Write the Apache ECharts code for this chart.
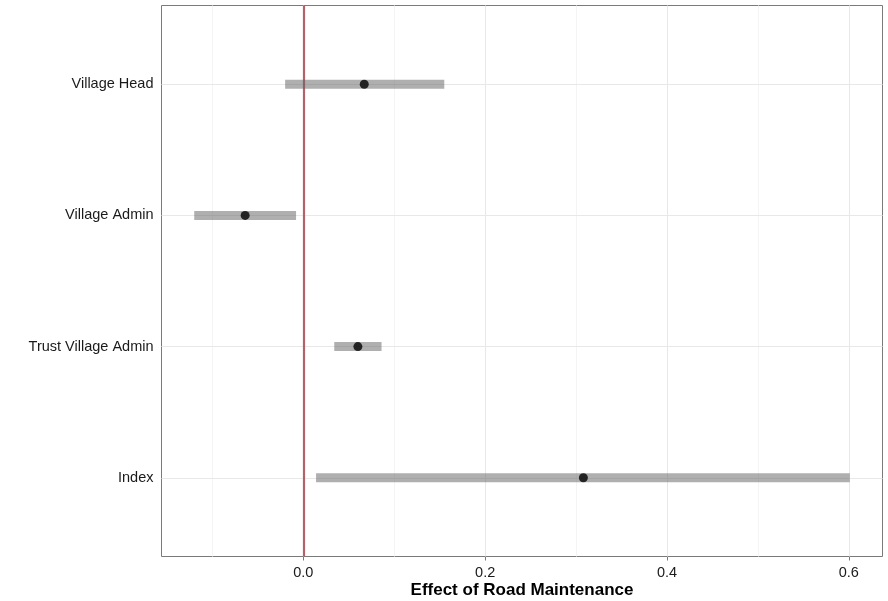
<!DOCTYPE html>
<html>
<head>
<meta charset="utf-8">
<title>Effect of Road Maintenance</title>
<script src="https://cdn.jsdelivr.net/npm/echarts@6/dist/echarts.min.js"></script>
<style>
  html, body { margin: 0; padding: 0; background: #ffffff; }
  #chart { width: 888px; height: 601px; }
</style>
</head>
<body>
<div id="chart"></div>
<script>
// Outcomes, bottom to top
const categories = ['Index', 'Trust Village Admin', 'Village Admin', 'Village Head'];
const estimates = [0.308, 0.060, -0.064, 0.067];
const lower = [0.014, 0.034, -0.120, -0.020];
const upper = [0.601, 0.086, -0.008, 0.155];

// Axis ticks and grid lines
const xMajorTicks = [0, 0.2, 0.4, 0.6];
const xMinorTicks = [-0.1, 0.1, 0.3, 0.5];
const yPositions = [1, 2, 3, 4];
const referenceValue = 0;

const chart = echarts.init(document.getElementById('chart'), null, { renderer: 'canvas' });

const font = 'Liberation Sans, Arial, Helvetica, sans-serif';

const intervalData = categories.map((c, i) => [lower[i], upper[i], yPositions[i]]);
const pointData = categories.map((c, i) => [estimates[i], yPositions[i]]);

const gridLines = [];
xMinorTicks.forEach(v => gridLines.push({ xAxis: v, lineStyle: { color: '#f4f4f4', width: 1, type: 'solid' } }));
xMajorTicks.forEach(v => gridLines.push({ xAxis: v, lineStyle: { color: '#e8e8e8', width: 1, type: 'solid' } }));
yPositions.forEach(v => gridLines.push({ yAxis: v, lineStyle: { color: '#e8e8e8', width: 1, type: 'solid' } }));

chart.setOption({
  backgroundColor: '#ffffff',
  animation: false,
  grid: {
    left: 161.5, right: 5.5, top: 5.5, bottom: 44.5,
    outerBoundsMode: 'none',
    containLabel: false,
    show: true,
    borderColor: '#7a7a7a',
    borderWidth: 1,
    backgroundColor: '#ffffff'
  },
  xAxis: {
    type: 'value',
    min: -0.156,
    max: 0.637,
    name: 'Effect of Road Maintenance',
    nameLocation: 'middle',
    nameGap: 25,
    nameMoveOverlap: false,
    nameTextStyle: { fontFamily: font, fontSize: 17, fontWeight: 'bold', color: '#000000' },
    axisLine: { show: false },
    axisTick: { show: true, length: 4, customValues: xMajorTicks, lineStyle: { color: '#7a7a7a', width: 1 } },
    axisLabel: {
      customValues: xMajorTicks,
      formatter: v => v.toFixed(1),
      margin: 9,
      fontFamily: font, fontSize: 14.5, color: '#1a1a1a'
    },
    splitLine: { show: false }
  },
  yAxis: {
    type: 'value',
    min: 0.4,
    max: 4.6,
    axisLine: { show: false },
    axisTick: { show: true, length: 4, customValues: yPositions, lineStyle: { color: '#7a7a7a', width: 1 } },
    axisLabel: {
      customValues: yPositions,
      formatter: v => categories[Math.round(v) - 1] || '',
      margin: 8,
      fontFamily: font, fontSize: 14.5, color: '#1a1a1a'
    },
    splitLine: { show: false }
  },
  series: [
    {
      // panel grid lines
      type: 'scatter',
      data: [],
      z: 1,
      silent: true,
      markLine: { z: 1, silent: true, symbol: 'none', label: { show: false }, animation: false, data: gridLines }
    },
    {
      // reference line at zero
      type: 'scatter',
      data: [],
      z: 2,
      silent: true,
      markLine: {
        z: 2, silent: true, symbol: 'none', label: { show: false }, animation: false,
        data: [{ xAxis: referenceValue, lineStyle: { color: '#b4626a', width: 2.2, type: 'solid' } }]
      }
    },
    {
      // confidence intervals
      type: 'custom',
      z: 3,
      data: intervalData,
      encode: { x: [0, 1], y: 2 },
      renderItem: (params, api) => {
        const a = api.coord([api.value(0), api.value(2)]);
        const b = api.coord([api.value(1), api.value(2)]);
        const h = 9;
        return {
          type: 'rect',
          shape: { x: a[0], y: a[1] - h / 2, width: b[0] - a[0], height: h },
          style: { fill: 'rgba(95,95,95,0.5)' }
        };
      }
    },
    {
      // point estimates
      type: 'scatter',
      z: 4,
      data: pointData,
      symbol: 'circle',
      symbolSize: 9,
      itemStyle: { color: '#000000' }
    }
  ]
});
</script>
</body>
</html>
